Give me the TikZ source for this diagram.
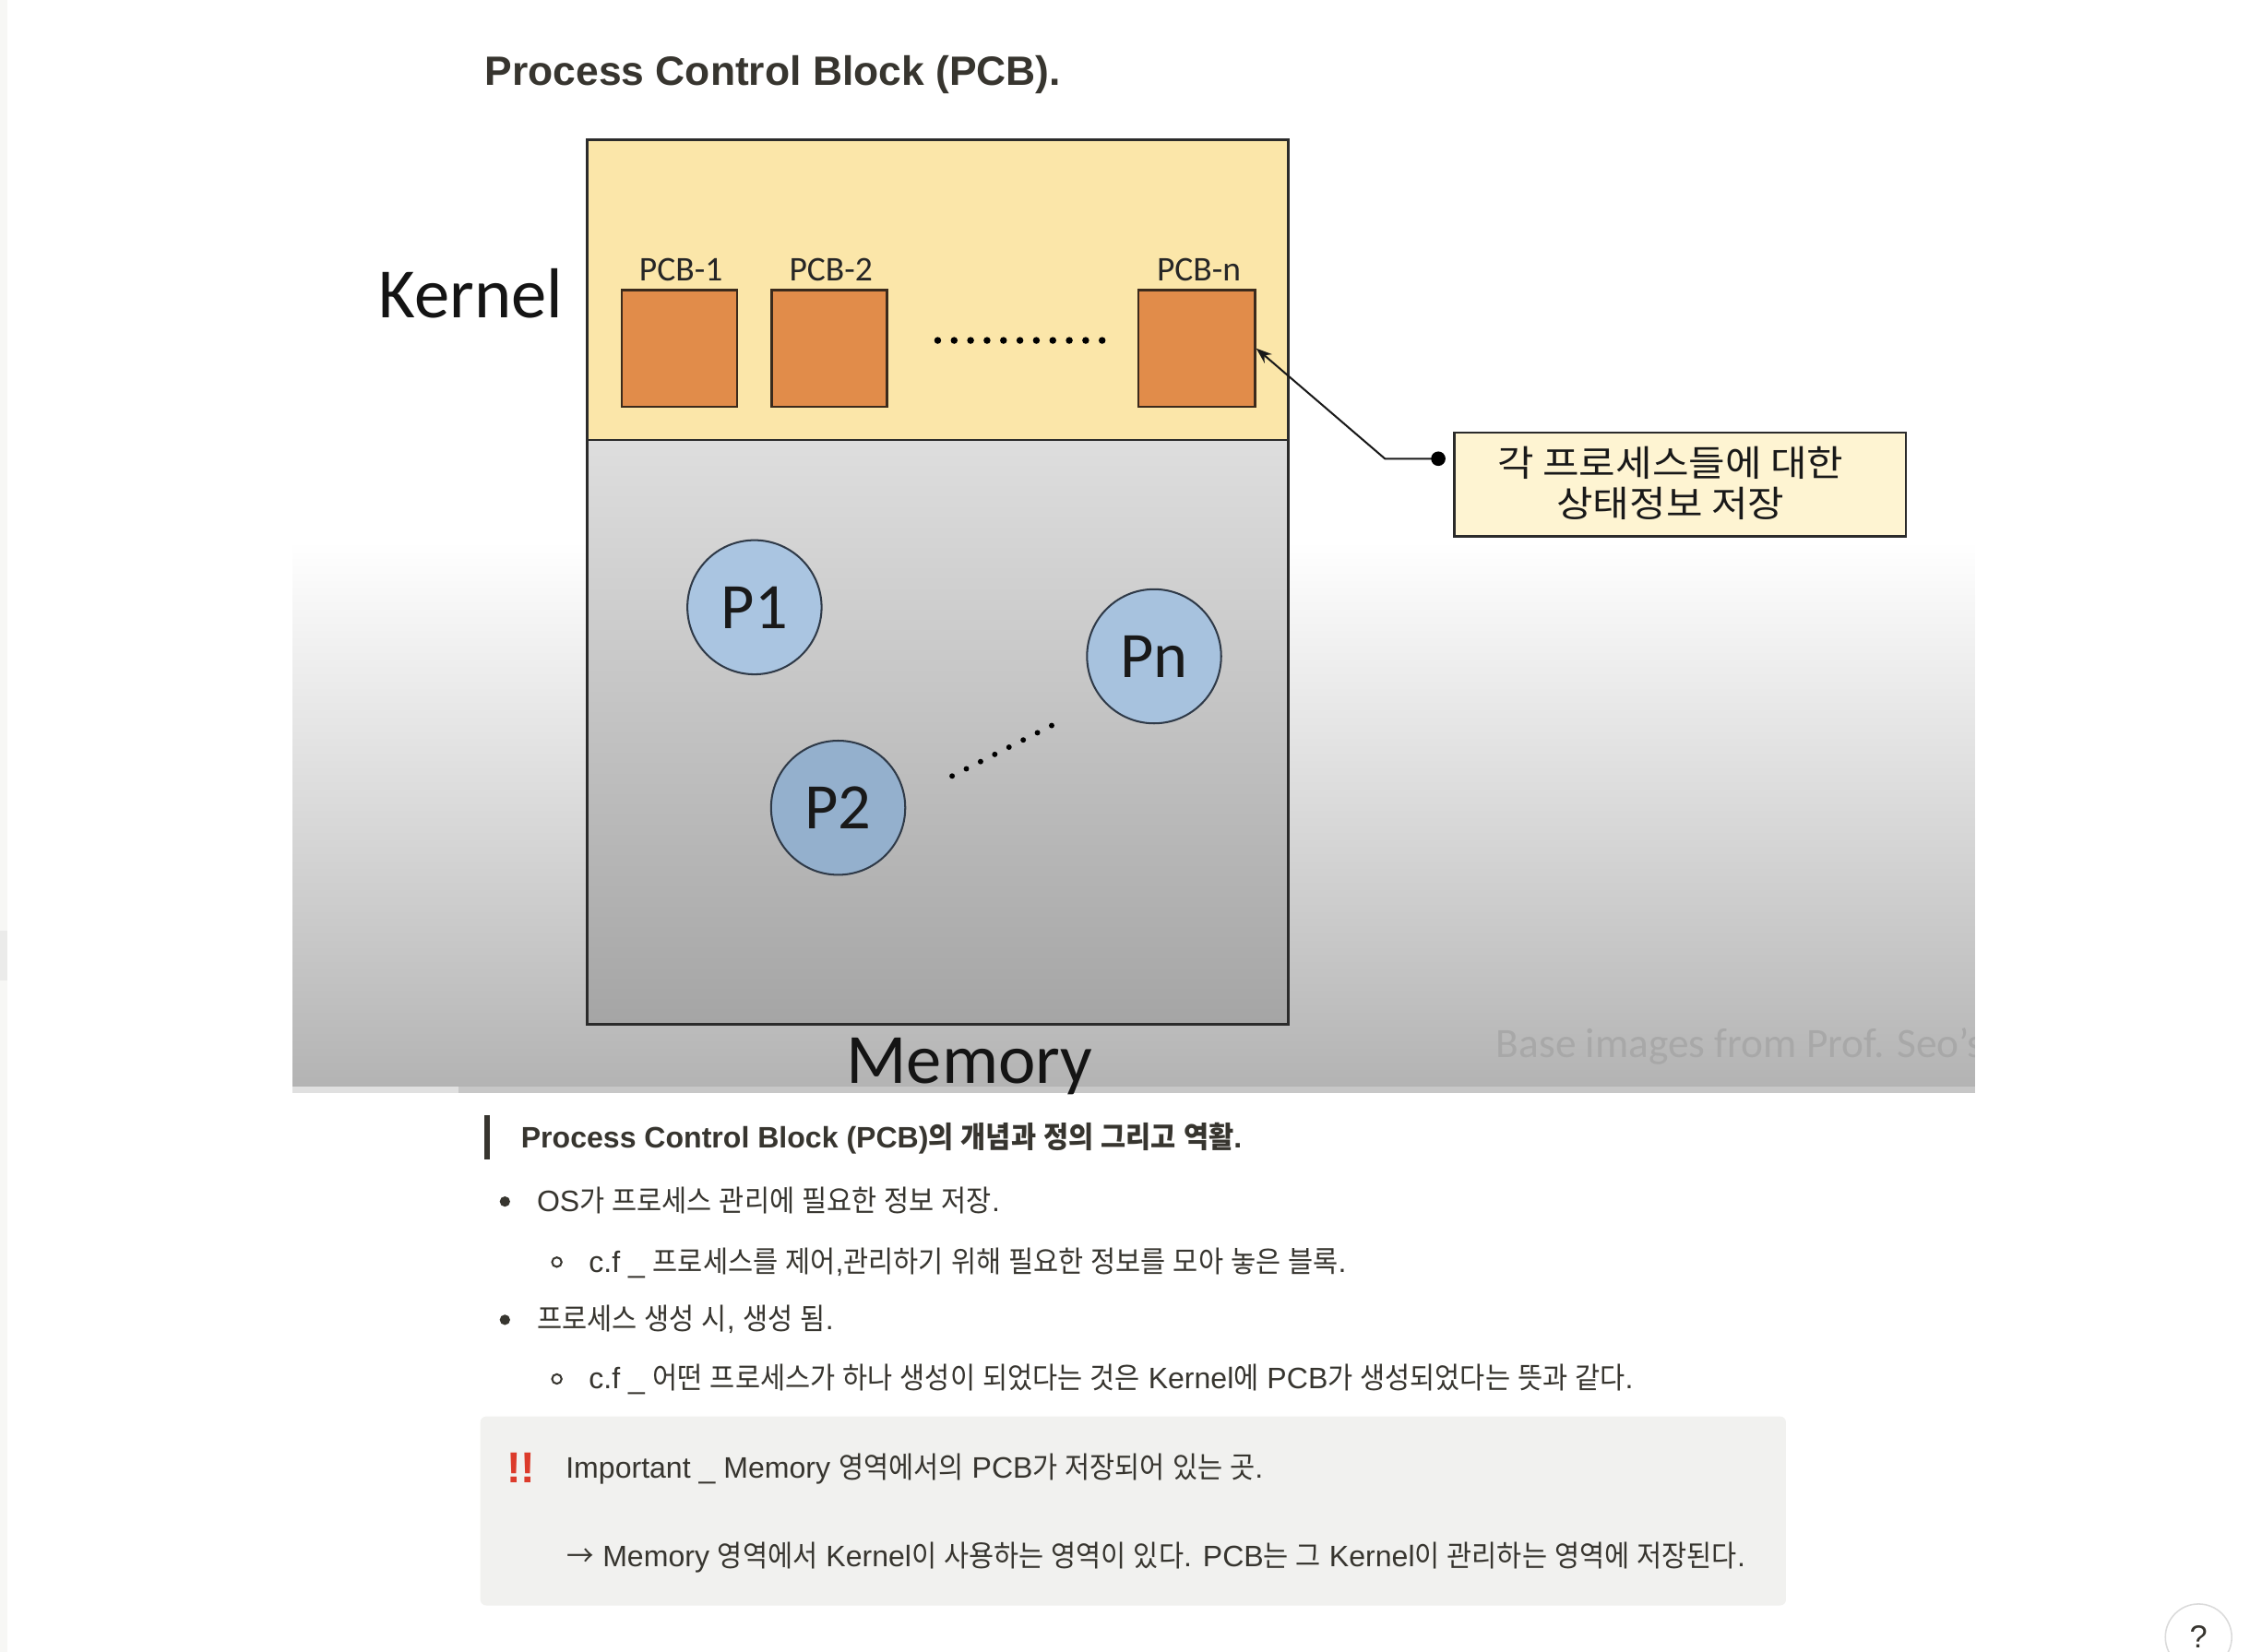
\documentclass[tikz,border=0pt]{standalone}
\usepackage{fontspec}
\setmainfont{Liberation Sans}
\newfontfamily\slidefont{Carlito}
\newfontfamily\krslide[FakeStretch=1.1]{Noto Sans CJK KR}
\newfontfamily\krbody[FakeStretch=0.92,WordSpace=1.2]{Noto Sans CJK KR}
\newcommand{\K}[1]{{\krbody #1}}
\usetikzlibrary{arrows.meta}
\definecolor{ntext}{HTML}{37352F}
\definecolor{kyellow}{HTML}{FBE6A9}
\definecolor{pcborange}{HTML}{E18C4A}
\definecolor{pcbborder}{HTML}{3B2A1C}
\definecolor{notefill}{HTML}{FEF4D2}
\definecolor{slideline}{HTML}{2B2B2B}
\definecolor{pone}{HTML}{AAC5E1}
\definecolor{ptwo}{HTML}{94B0CD}
\definecolor{pn}{HTML}{A7C2DE}
\definecolor{pborder}{HTML}{2F3A48}
\definecolor{slidebottom}{HTML}{B3B3B3}
\definecolor{memtop}{HTML}{DEDEDE}
\definecolor{membottom}{HTML}{A5A5A5}
\definecolor{wmark}{HTML}{A8A8A8}
\definecolor{calloutgray}{HTML}{F1F1EF}
\definecolor{alertred}{HTML}{DC3B2B}
\definecolor{sidestrip}{HTML}{F7F7F5}
\definecolor{sidestripdark}{HTML}{EBEBEA}
\begin{document}
\begin{tikzpicture}[x=1pt,y=-1pt,
  pcbbox/.style={draw=pcbborder,fill=pcborange,line width=1.6pt,inner sep=0pt,minimum width=80pt,minimum height=81pt},
  pcblabel/.style={anchor=base,font=\slidefont\fontsize{24}{28}\selectfont,text=black!85},
  proc/.style={circle,draw=pborder,line width=1.3pt,minimum size=93pt,inner sep=0pt,font=\slidefont\fontsize{45}{54}\selectfont,text=black!90},
  bodytext/.style={anchor=base west,text=ntext,font=\fontsize{20.5}{25}\selectfont,inner sep=0pt},
  slidelabel/.style={anchor=base,font=\slidefont\fontsize{49}{58}\selectfont,text=black!92}]
\useasboundingbox (0,0) rectangle (1568,1145);
\fill[white] (0,0) rectangle (1568,1145);
% left strip
\fill[sidestrip] (0,0) rectangle (5,1145);
\fill[sidestripdark] (0,645) rectangle (5,680);
% title
\node[anchor=base west,text=ntext,inner sep=0pt,font=\bfseries\fontsize{28.4}{34}\selectfont] (title) at (336,59) {Process Control Block (PCB).};
% slide background
\shade[top color=white,bottom color=slidebottom] (203,375) rectangle (1369,754);
\fill[black!12] (203,753) rectangle (318,758);
\fill[black!22] (318,753) rectangle (1369,758);
% watermark
\begin{scope}
\clip (203,375) rectangle (1369,753);
\node[anchor=base west,inner sep=0pt,text=wmark,font=\slidefont\fontsize{29}{34}\selectfont] (wm) at (1037,733) {Base images from Prof. Seo’s};
\end{scope}
% memory and kernel
\node[draw=slideline,line width=1.6pt,top color=memtop,bottom color=membottom,minimum width=486pt,minimum height=405pt,inner sep=0pt] (memory) at (650,507.5) {};
\node[draw=slideline,line width=1.6pt,fill=kyellow,minimum width=486pt,minimum height=208pt,inner sep=0pt] (kernel) at (650,201) {};
\node[slidelabel] (kernellabel) at (326.5,220) {Kernel};
\node[slidelabel] (memorylabel) at (672,751) {Memory};
% PCBs
\node[pcbbox] (pcb1) at (471,241.5) {};
\node[pcbbox] (pcb2) at (575,241.5) {};
\node[pcbbox,minimum width=81pt] (pcbn) at (829.5,241.5) {};
\node[pcblabel] (l1) at (472,195) {PCB-1};
\node[pcblabel] (l2) at (576,195) {PCB-2};
\node[pcblabel] (ln) at (831,195) {PCB-n};
\foreach \i in {0,...,10} \fill[black] ({650+\i*11.4},236) circle (2.4);
% processes
\node[proc,fill=pone] (p1) at (523,421) {P1};
\node[proc,fill=ptwo] (p2) at (581,560) {P2};
\node[proc,fill=pn] (pnn) at (800,455) {Pn};
\foreach \i in {0,...,7} \fill[black] ({660+\i*9.857},{538-\i*5}) circle (1.9);
% callout
\node[draw=slideline,line width=1.6pt,fill=notefill,minimum width=313pt,minimum height=72pt,inner sep=0pt] (note) at (1164.5,336) {};
\node[inner sep=0pt,align=center,text=black!90,font=\krslide\fontsize{25}{28}\selectfont] (notetext) at (1158,335) {각 프로세스들에 대한\\상태정보 저장};
\coordinate (dotpt) at (997,318);
\coordinate (bend) at (960,318);
\draw[line width=1.3pt,black!90,-{Stealth[length=11pt,width=8pt]}] (dotpt) -- (bend) -- (pcbn.east);
\fill[black] (dotpt) circle (5);
% notion text
\fill[ntext] (336,773) rectangle (339.5,804);
\node[bodytext,font=\bfseries\fontsize{20.5}{25}\selectfont] (q) at (361,796) {Process Control Block (PCB)\K{의 개념과 정의 그리고 역활}.};
\fill[ntext] (350,833) circle (3.6);
\node[bodytext] (b1) at (372,840) {OS\K{가 프로세스 관리에 필요한 정보 저장}.};
\draw[ntext,line width=1.3pt] (386,875) circle (3.3);
\node[bodytext] (s1) at (408,882) {c.f \_ \K{프로세스를 제어},\K{관리하기 위해 필요한 정보를 모아 놓은 블록}.};
\fill[ntext] (350,915) circle (3.6);
\node[bodytext] (b2) at (372,922) {\K{프로세스 생성 시}, \K{생성 됨}.};
\draw[ntext,line width=1.3pt] (386,956) circle (3.3);
\node[bodytext] (s2) at (408,963) {c.f \_ \K{어떤 프로세스가 하나 생성이 되었다는 것은} Kernel\K{에} PCB\K{가 생성되었다는 뜻과 같다}.};
% callout block
\fill[calloutgray,rounded corners=4pt] (333,982) rectangle (1238,1113);
\node[anchor=base west,inner sep=0pt,text=alertred,font=\bfseries\fontsize{30}{34}\selectfont] (alert) at (351,1028) {!!};
\node[bodytext] (imp) at (392,1025) {Important \_ Memory \K{영역에서의} PCB\K{가 저장되어 있는 곳}.};
\node[bodytext] (arr) at (393,1086) {\K{→} Memory \K{영역에서} Kernel\K{이 사용하는 영역이 있다}. PCB\K{는 그} Kernel\K{이 관리하는 영역에 저장된다}.};
% help button
\node[circle,draw=black!14,line width=1pt,fill=white,minimum size=46pt,inner sep=0pt,text=ntext,font=\fontsize{22}{26}\selectfont] (help) at (1524,1135) {?};
\end{tikzpicture}
\end{document}
